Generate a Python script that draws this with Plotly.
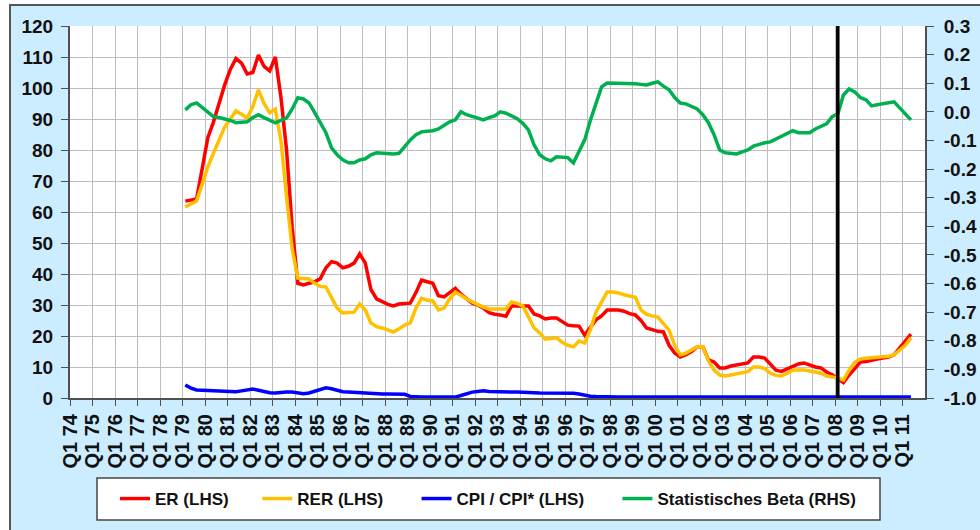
import plotly.graph_objects as go

# ---------------- data (quarterly, 1979Q1 .. 2011Q2) ----------------
first_year = 1979
er = [
    63.5, 63.8, 64.2, 74,
    84, 89, 95.5, 101,
    106, 109.5, 108, 104.5,
    105, 110.6, 107, 105.5,
    110, 97, 80, 55,
    37, 36.5, 37, 37.5,
    38.5, 42, 44, 43.5,
    42, 42.5, 43.5, 46.5,
    43.5, 35, 32, 31,
    30.2, 29.7, 30.3, 30.5,
    30.6, 34, 38, 37.5,
    37, 33, 32.6, 34,
    35.4, 33.5, 32, 30.6,
    30, 29, 27.5, 27,
    26.8, 26.4, 29.7, 29.7,
    29.7, 29.7, 27.1, 26.5,
    25.5, 25.8, 25.8, 24.5,
    23.5, 23.3, 23.2, 20.3,
    23, 25.2, 26.5, 28.4,
    28.4, 28.4, 28, 27.2,
    26.8, 25, 22.6, 22,
    21.5, 21.3, 17, 14.5,
    13.2, 14, 15, 16.5,
    16.5, 12.3, 11.6, 9.7,
    9.7, 10.3, 10.6, 11,
    11.3, 13.2, 13.2, 12.9,
    11, 9, 8.6, 9.5,
    10.3, 11, 11.3, 10.6,
    10, 9.7, 8.4, 7.5,
    6.1, 5, 7.4, 9.5,
    11.6, 11.8, 12.3, 12.6,
    12.9, 13.2, 13.9, 16,
    18.5, 20.6,
]
rer = [
    61.6, 62.5, 63.5, 69,
    74.5, 79, 83, 87.4,
    90, 92.6, 91.5, 90.3,
    94, 99.4, 95, 92,
    93.2, 83, 65, 48,
    38.7, 38.5, 38.4, 37,
    36, 35.8, 32.2, 29,
    27.4, 27.6, 27.7, 30.3,
    28.4, 24.2, 23, 22.6,
    22, 21.3, 22.3, 23.5,
    24.2, 29, 32.2, 31.5,
    31.3, 28.4, 29, 32,
    34.2, 33, 32, 31,
    30, 29.3, 28.7, 28.7,
    28.7, 28.7, 31, 30.5,
    29.7, 26, 22.6, 21,
    19, 19.2, 19.4, 18,
    17, 16.5, 18.4, 17.7,
    22, 27.7, 31, 34.2,
    34.2, 33.9, 33.3, 32.8,
    32.5, 28.4, 27, 26.5,
    26.1, 24, 21.9, 17,
    13.9, 14.5, 15.5, 16.5,
    16.5, 12, 9, 7.4,
    7.1, 7.5, 7.7, 8.1,
    8.5, 10, 10, 9.5,
    8, 7.3, 7.1, 8,
    9, 9, 9, 8.7,
    8.4, 8, 7.1, 6.8,
    6.5, 5.8, 9, 11.5,
    12.6, 12.8, 13, 13.2,
    13.2, 13.5, 13.9, 15.5,
    17, 19.4,
]
cpi = [
    4.2, 3.2, 2.6, 2.5,
    2.4, 2.3, 2.3, 2.1,
    1.9, 2.0, 2.3, 2.7,
    2.9, 2.5, 2.1, 1.7,
    1.6, 1.8, 1.9, 1.9,
    1.7, 1.4, 1.6, 2.2,
    2.8, 3.3, 3.0, 2.5,
    2.0, 1.9, 1.8, 1.6,
    1.4, 1.3, 1.3, 1.3,
    1.3, 1.3, 1.3, 1.2,
    0.5, 0.3, 0.3, 0.3,
    0.3, 0.3, 0.3, 0.3,
    0.3, 0.8, 1.4, 1.9,
    2.1, 2.3, 2.1, 2.0,
    2.0, 1.9, 1.9, 1.9,
    1.9, 1.8, 1.7, 1.6,
    1.6, 1.6, 1.6, 1.6,
    1.6, 1.5, 1.3, 0.9,
    0.6, 0.5, 0.4, 0.4,
    0.4, 0.3, 0.3, 0.3,
    0.3, 0.3, 0.3, 0.3,
    0.3, 0.3, 0.3, 0.3,
    0.2, 0.2, 0.2, 0.2,
    0.2, 0.2, 0.2, 0.2,
    0.2, 0.2, 0.2, 0.2,
    0.2, 0.2, 0.2, 0.2,
    0.2, 0.2, 0.2, 0.2,
    0.2, 0.2, 0.2, 0.2,
    0.2, 0.2, 0.2, 0.2,
    0.2, 0.2, 0.2, 0.2,
    0.2, 0.2, 0.2, 0.2,
    0.2, 0.2, 0.3, 0.3,
    0.3, 0.3,
]
beta = [
    0.007, 0.025, 0.031, 0.015,
    0.0, -0.017, -0.02, -0.024,
    -0.03, -0.038, -0.036, -0.035,
    -0.02, -0.01, -0.02, -0.028,
    -0.038, -0.03, -0.021, 0.01,
    0.049, 0.045, 0.031, -0.003,
    -0.04, -0.073, -0.126, -0.15,
    -0.168, -0.178, -0.178, -0.168,
    -0.164, -0.15, -0.143, -0.145,
    -0.147, -0.147, -0.145, -0.12,
    -0.098, -0.08, -0.07, -0.068,
    -0.066, -0.06, -0.049, -0.035,
    -0.028, 0.0, -0.01, -0.017,
    -0.022, -0.028, -0.02, -0.014,
    0.0, -0.005, -0.014, -0.024,
    -0.04, -0.063, -0.115, -0.15,
    -0.164, -0.171, -0.157, -0.16,
    -0.16, -0.178, -0.14, -0.098,
    -0.03, 0.03, 0.087, 0.101,
    0.101, 0.098, 0.1, 0.098,
    0.098, 0.096, 0.094, 0.1,
    0.105, 0.09, 0.077, 0.05,
    0.031, 0.028, 0.02, 0.01,
    -0.01, -0.038, -0.08, -0.133,
    -0.143, -0.145, -0.147, -0.14,
    -0.133, -0.12, -0.113, -0.108,
    -0.105, -0.095, -0.084, -0.075,
    -0.066, -0.073, -0.074, -0.073,
    -0.06, -0.052, -0.042, -0.017,
    -0.007, 0.059, 0.08, 0.07,
    0.05, 0.042, 0.021, 0.025,
    0.028, 0.032, 0.035, 0.014,
    -0.005, -0.028,
]
tick_years = list(range(1974, 2012))
tick_labels = ["Q1 %02d" % (y % 100) for y in tick_years]
left_ticks = list(range(0, 121, 10))
right_ticks = [round(-1.0 + 0.1 * i, 1) for i in range(14)]
right_labels = ["%.1f" % (v if v != 0 else 0.0) for v in right_ticks]
marker_quarter = 2008.125  # vertical line, Q1 2008

names = ["ER (LHS)", "RER (LHS)", "CPI / CPI* (LHS)", "Statistisches Beta (RHS)"]
colors = ["#FF0000", "#FFC000", "#0000FF", "#00B050"]

# quarter centres on the category axis
x = [first_year + (i + 0.5) / 4 for i in range(len(er))]

# ---------------- geometry helpers ----------------
W, H = 980, 530
L, R, T, B = 70, 55, 26, 132
PW, PH = W - L - R, H - T - B


def px(xp):
    return (xp - L) / PW


def py(yp):
    return (H - B - yp) / PH


FONT = "Liberation Sans, Arial, sans-serif"
NB = "\u00a0"
pads = [NB * 5, NB * 6, NB * 6, ""]

fig = go.Figure()
series = [er, rer, cpi]
for s, n, c, p in zip(series, names[:3], colors[:3], pads):
    fig.add_trace(go.Scatter(x=x, y=s, name=n + p, mode="lines",
                             line=dict(color=c, width=3.5), yaxis="y"))
fig.add_trace(go.Scatter(x=x, y=beta, name=names[3], mode="lines",
                         line=dict(color=colors[3], width=3.5), yaxis="y2"))

tickfont = dict(family=FONT, size=19, color="#111111", weight="bold")
axis_line = dict(showline=True, linecolor="#505050", linewidth=2)

fig.update_layout(
    width=W, height=H,
    margin=dict(l=L, r=R, t=T, b=B, autoexpand=False),
    paper_bgcolor="#CCECFF",
    plot_bgcolor="white",
    xaxis=dict(range=[1974, 2012], tickmode="array", tickvals=tick_years,
               ticktext=tick_labels, tickangle=-90, ticks="outside", ticklen=6,
               tickcolor="#505050", showgrid=True, gridcolor="#BDBDBD",
               gridwidth=1, zeroline=False, tickfont=dict(family=FONT, size=20,
               color="#111111", weight="bold"), **axis_line),
    yaxis=dict(range=[0, 120], tickmode="array", tickvals=left_ticks,
               ticks="outside", ticklen=7, tickcolor="#505050",
               showgrid=True, gridcolor="#BDBDBD", gridwidth=1, zeroline=False,
               tickfont=tickfont, ticklabelstandoff=4, **axis_line),
    yaxis2=dict(range=[-1.0, 0.3], overlaying="y", side="right",
                tickmode="array", tickvals=right_ticks, ticktext=right_labels,
                ticks="outside", ticklen=7, tickcolor="#505050",
                showgrid=False, zeroline=False, tickfont=tickfont,
                ticklabelstandoff=6, **axis_line),
    showlegend=True,
    legend=dict(orientation="h", x=px(115), xanchor="left",
                y=py(499), yanchor="middle", bgcolor="rgba(0,0,0,0)",
                borderwidth=0, itemwidth=30,
                font=dict(family=FONT, size=17, color="#111111", weight="bold")),
    shapes=[
        # white surround outside the chart frame
        dict(type="rect", xref="paper", yref="paper", x0=px(-5), x1=px(10),
             y0=py(H + 5), y1=py(-5), fillcolor="white", line=dict(width=0),
             layer="above"),
        dict(type="rect", xref="paper", yref="paper", x0=px(-5), x1=px(W + 5),
             y0=py(5), y1=py(-5), fillcolor="white", line=dict(width=0),
             layer="above"),
        # chart frame
        dict(type="rect", xref="paper", yref="paper", x0=px(10), x1=px(W + 10),
             y0=py(H + 10), y1=py(5), line=dict(color="#555555", width=2),
             fillcolor="rgba(0,0,0,0)", layer="above"),
        # legend box
        dict(type="rect", xref="paper", yref="paper", x0=px(97), x1=px(880),
             y0=py(520), y1=py(478), line=dict(color="#444444", width=1.5),
             fillcolor="white", layer="above"),
        # vertical marker
        dict(type="line", xref="x", yref="paper", x0=marker_quarter,
             x1=marker_quarter, y0=0, y1=1, line=dict(color="black", width=3.5),
             layer="above"),
    ],
)

fig.write_html(
    "out.html",
    config={"displayModeBar": False},
    post_script="document.documentElement.style.margin='0';"
                "document.body.style.margin='0';"
                "document.body.style.overflow='hidden';",
)
